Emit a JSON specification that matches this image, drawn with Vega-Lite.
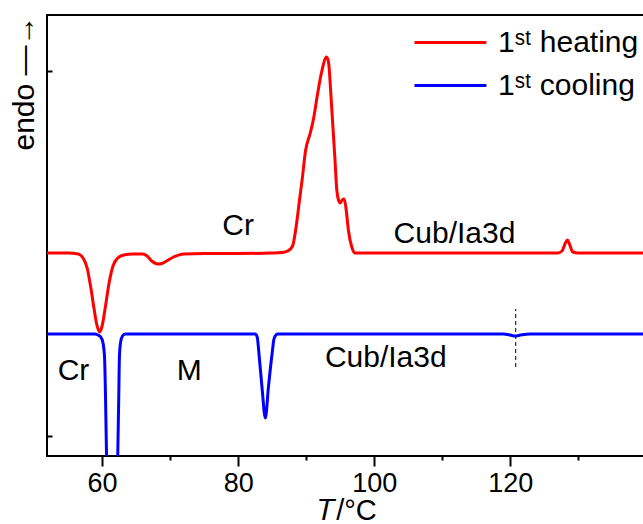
{
  "$schema": "https://vega.github.io/schema/vega-lite/v6.json",
  "width": 600,
  "height": 441,
  "autosize": "none",
  "padding": {"left": 47, "top": 15, "right": 0, "bottom": 68},
  "background": "white",
  "config": {
    "font": "Liberation Sans",
    "view": {"stroke": "black", "strokeWidth": 2},
    "axis": {"grid": false, "domain": false, "labelColor": "black", "titleColor": "black", "tickColor": "black", "tickWidth": 2, "titleFontWeight": "normal"}
  },
  "datasets": {
    "curves": [
      {"T": 51.9, "v": 203, "series": "1ˢᵗ heating"},
      {"T": 55, "v": 203, "series": "1ˢᵗ heating"},
      {"T": 56.5, "v": 202, "series": "1ˢᵗ heating"},
      {"T": 57.2, "v": 198, "series": "1ˢᵗ heating"},
      {"T": 57.8, "v": 188, "series": "1ˢᵗ heating"},
      {"T": 58.3, "v": 170, "series": "1ˢᵗ heating"},
      {"T": 58.8, "v": 148, "series": "1ˢᵗ heating"},
      {"T": 59.2, "v": 132, "series": "1ˢᵗ heating"},
      {"T": 59.6, "v": 124, "series": "1ˢᵗ heating"},
      {"T": 60.0, "v": 130, "series": "1ˢᵗ heating"},
      {"T": 60.5, "v": 150, "series": "1ˢᵗ heating"},
      {"T": 61.0, "v": 172, "series": "1ˢᵗ heating"},
      {"T": 61.6, "v": 190, "series": "1ˢᵗ heating"},
      {"T": 62.3, "v": 198, "series": "1ˢᵗ heating"},
      {"T": 63.2, "v": 201, "series": "1ˢᵗ heating"},
      {"T": 64.5, "v": 202, "series": "1ˢᵗ heating"},
      {"T": 66.0, "v": 202, "series": "1ˢᵗ heating"},
      {"T": 66.6, "v": 200, "series": "1ˢᵗ heating"},
      {"T": 67.3, "v": 195, "series": "1ˢᵗ heating"},
      {"T": 68.2, "v": 192, "series": "1ˢᵗ heating"},
      {"T": 68.8, "v": 192.5, "series": "1ˢᵗ heating"},
      {"T": 69.5, "v": 195, "series": "1ˢᵗ heating"},
      {"T": 70.5, "v": 199, "series": "1ˢᵗ heating"},
      {"T": 72, "v": 202, "series": "1ˢᵗ heating"},
      {"T": 75, "v": 202.5, "series": "1ˢᵗ heating"},
      {"T": 80, "v": 202.5, "series": "1ˢᵗ heating"},
      {"T": 85, "v": 203, "series": "1ˢᵗ heating"},
      {"T": 86.5, "v": 203.5, "series": "1ˢᵗ heating"},
      {"T": 87.3, "v": 205, "series": "1ˢᵗ heating"},
      {"T": 88.0, "v": 210, "series": "1ˢᵗ heating"},
      {"T": 88.6, "v": 233, "series": "1ˢᵗ heating"},
      {"T": 89.0, "v": 255, "series": "1ˢᵗ heating"},
      {"T": 89.4, "v": 276, "series": "1ˢᵗ heating"},
      {"T": 89.9, "v": 305, "series": "1ˢᵗ heating"},
      {"T": 90.6, "v": 323, "series": "1ˢᵗ heating"},
      {"T": 91.1, "v": 338, "series": "1ˢᵗ heating"},
      {"T": 91.6, "v": 359, "series": "1ˢᵗ heating"},
      {"T": 92.3, "v": 385, "series": "1ˢᵗ heating"},
      {"T": 93.0, "v": 399, "series": "1ˢᵗ heating"},
      {"T": 93.3, "v": 393, "series": "1ˢᵗ heating"},
      {"T": 93.6, "v": 365, "series": "1ˢᵗ heating"},
      {"T": 93.8, "v": 343, "series": "1ˢᵗ heating"},
      {"T": 94.2, "v": 300, "series": "1ˢᵗ heating"},
      {"T": 94.5, "v": 266, "series": "1ˢᵗ heating"},
      {"T": 94.8, "v": 255, "series": "1ˢᵗ heating"},
      {"T": 95.0, "v": 253, "series": "1ˢᵗ heating"},
      {"T": 95.3, "v": 256, "series": "1ˢᵗ heating"},
      {"T": 95.6, "v": 257, "series": "1ˢᵗ heating"},
      {"T": 95.9, "v": 245, "series": "1ˢᵗ heating"},
      {"T": 96.2, "v": 226, "series": "1ˢᵗ heating"},
      {"T": 96.7, "v": 209, "series": "1ˢᵗ heating"},
      {"T": 97.2, "v": 203, "series": "1ˢᵗ heating"},
      {"T": 100, "v": 203, "series": "1ˢᵗ heating"},
      {"T": 110, "v": 203, "series": "1ˢᵗ heating"},
      {"T": 120, "v": 203, "series": "1ˢᵗ heating"},
      {"T": 127, "v": 203, "series": "1ˢᵗ heating"},
      {"T": 127.6, "v": 205, "series": "1ˢᵗ heating"},
      {"T": 128.1, "v": 213, "series": "1ˢᵗ heating"},
      {"T": 128.4, "v": 216, "series": "1ˢᵗ heating"},
      {"T": 128.7, "v": 212, "series": "1ˢᵗ heating"},
      {"T": 129.2, "v": 204, "series": "1ˢᵗ heating"},
      {"T": 130, "v": 203, "series": "1ˢᵗ heating"},
      {"T": 140.1, "v": 203, "series": "1ˢᵗ heating"},
      {"T": 51.9, "v": 122, "series": "1ˢᵗ cooling"},
      {"T": 58.9, "v": 122, "series": "1ˢᵗ cooling"},
      {"T": 59.4, "v": 121, "series": "1ˢᵗ cooling"},
      {"T": 59.8, "v": 119, "series": "1ˢᵗ cooling"},
      {"T": 60.1, "v": 114, "series": "1ˢᵗ cooling"},
      {"T": 60.35, "v": 100, "series": "1ˢᵗ cooling"},
      {"T": 60.5, "v": 60, "series": "1ˢᵗ cooling"},
      {"T": 60.65, "v": 0, "series": "1ˢᵗ cooling"},
      {"T": 61.4, "v": -400, "series": "1ˢᵗ cooling"},
      {"T": 62.3, "v": 0, "series": "1ˢᵗ cooling"},
      {"T": 62.45, "v": 60, "series": "1ˢᵗ cooling"},
      {"T": 62.55, "v": 100, "series": "1ˢᵗ cooling"},
      {"T": 62.75, "v": 115, "series": "1ˢᵗ cooling"},
      {"T": 63.0, "v": 120, "series": "1ˢᵗ cooling"},
      {"T": 63.4, "v": 122, "series": "1ˢᵗ cooling"},
      {"T": 70, "v": 122, "series": "1ˢᵗ cooling"},
      {"T": 80, "v": 122, "series": "1ˢᵗ cooling"},
      {"T": 82.5, "v": 122, "series": "1ˢᵗ cooling"},
      {"T": 82.8, "v": 119, "series": "1ˢᵗ cooling"},
      {"T": 83.05, "v": 103, "series": "1ˢᵗ cooling"},
      {"T": 83.5, "v": 69, "series": "1ˢᵗ cooling"},
      {"T": 84.0, "v": 38, "series": "1ˢᵗ cooling"},
      {"T": 84.45, "v": 69, "series": "1ˢᵗ cooling"},
      {"T": 85.0, "v": 103, "series": "1ˢᵗ cooling"},
      {"T": 85.3, "v": 118, "series": "1ˢᵗ cooling"},
      {"T": 85.8, "v": 122, "series": "1ˢᵗ cooling"},
      {"T": 90, "v": 122, "series": "1ˢᵗ cooling"},
      {"T": 100, "v": 122, "series": "1ˢᵗ cooling"},
      {"T": 110, "v": 122, "series": "1ˢᵗ cooling"},
      {"T": 119, "v": 122, "series": "1ˢᵗ cooling"},
      {"T": 120.0, "v": 121, "series": "1ˢᵗ cooling"},
      {"T": 120.7, "v": 120, "series": "1ˢᵗ cooling"},
      {"T": 121.5, "v": 121, "series": "1ˢᵗ cooling"},
      {"T": 123, "v": 122, "series": "1ˢᵗ cooling"},
      {"T": 130, "v": 122, "series": "1ˢᵗ cooling"},
      {"T": 140.1, "v": 122, "series": "1ˢᵗ cooling"}
    ],
    "labels": [
      {"T": 80.0, "v": 221, "text": "Cr"},
      {"T": 111.8, "v": 213, "text": "Cub/Ia3d"},
      {"T": 55.8, "v": 76, "text": "Cr"},
      {"T": 72.8, "v": 76, "text": "M"},
      {"T": 101.7, "v": 89, "text": "Cub/Ia3d"}
    ],
    "marker": [
      {"T": 120.8, "v": 89, "v2": 147}
    ]
  },
  "layer": [
    {
      "data": {"name": "marker"},
      "mark": {"type": "rule", "color": "black", "strokeWidth": 1, "strokeDash": [4, 3]},
      "encoding": {
        "x": {"field": "T", "type": "quantitative"},
        "y": {"field": "v", "type": "quantitative"},
        "y2": {"field": "v2"}
      }
    },
    {
      "data": {"name": "curves"},
      "mark": {"type": "line", "strokeWidth": 3, "clip": true, "interpolate": "monotone"},
      "encoding": {
        "x": {
          "field": "T", "type": "quantitative",
          "scale": {"domain": [51.9, 140.1], "nice": false, "zero": false},
          "axis": {
            "values": [60, 70, 80, 90, 100, 110, 120, 130],
            "labelExpr": "datum.value % 20 === 0 ? datum.label : ''",
            "tickSize": {"condition": {"test": "datum.value % 20 === 0", "value": 10}, "value": 4},
            "labelFontSize": 27,
            "labelPadding": 4,
            "title": "𝑇/°C",
            "titleFontSize": 29,
            "titlePadding": 0
          }
        },
        "y": {
          "field": "v", "type": "quantitative",
          "scale": {"domain": [0, 441], "nice": false, "zero": false},
          "axis": {
            "values": [20, 385],
            "labels": false,
            "tickSize": -5,
            "title": "endo —→",
            "titleFontSize": 30,
            "titleAngle": 270,
            "titleAlign": "left",
            "titleBaseline": "alphabetic",
            "titleX": -14,
            "titleY": 135
          }
        },
        "color": {
          "field": "series", "type": "nominal", "sort": null,
          "scale": {"domain": ["1ˢᵗ heating", "1ˢᵗ cooling"], "range": ["#ff0000", "#0000ff"]},
          "legend": {
            "orient": "none", "legendX": 366, "legendY": 4, "title": null,
            "symbolType": "M-1,0H2.27", "symbolSize": 1936, "symbolStrokeWidth": 3,
            "labelFontSize": 30, "labelColor": "black", "labelOffset": 38, "rowPadding": 4
          }
        }
      }
    },
    {
      "data": {"name": "labels"},
      "mark": {"type": "text", "fontSize": 30, "align": "center", "baseline": "alphabetic", "color": "black"},
      "encoding": {
        "x": {"field": "T", "type": "quantitative"},
        "y": {"field": "v", "type": "quantitative"},
        "text": {"field": "text"}
      }
    }
  ]
}
